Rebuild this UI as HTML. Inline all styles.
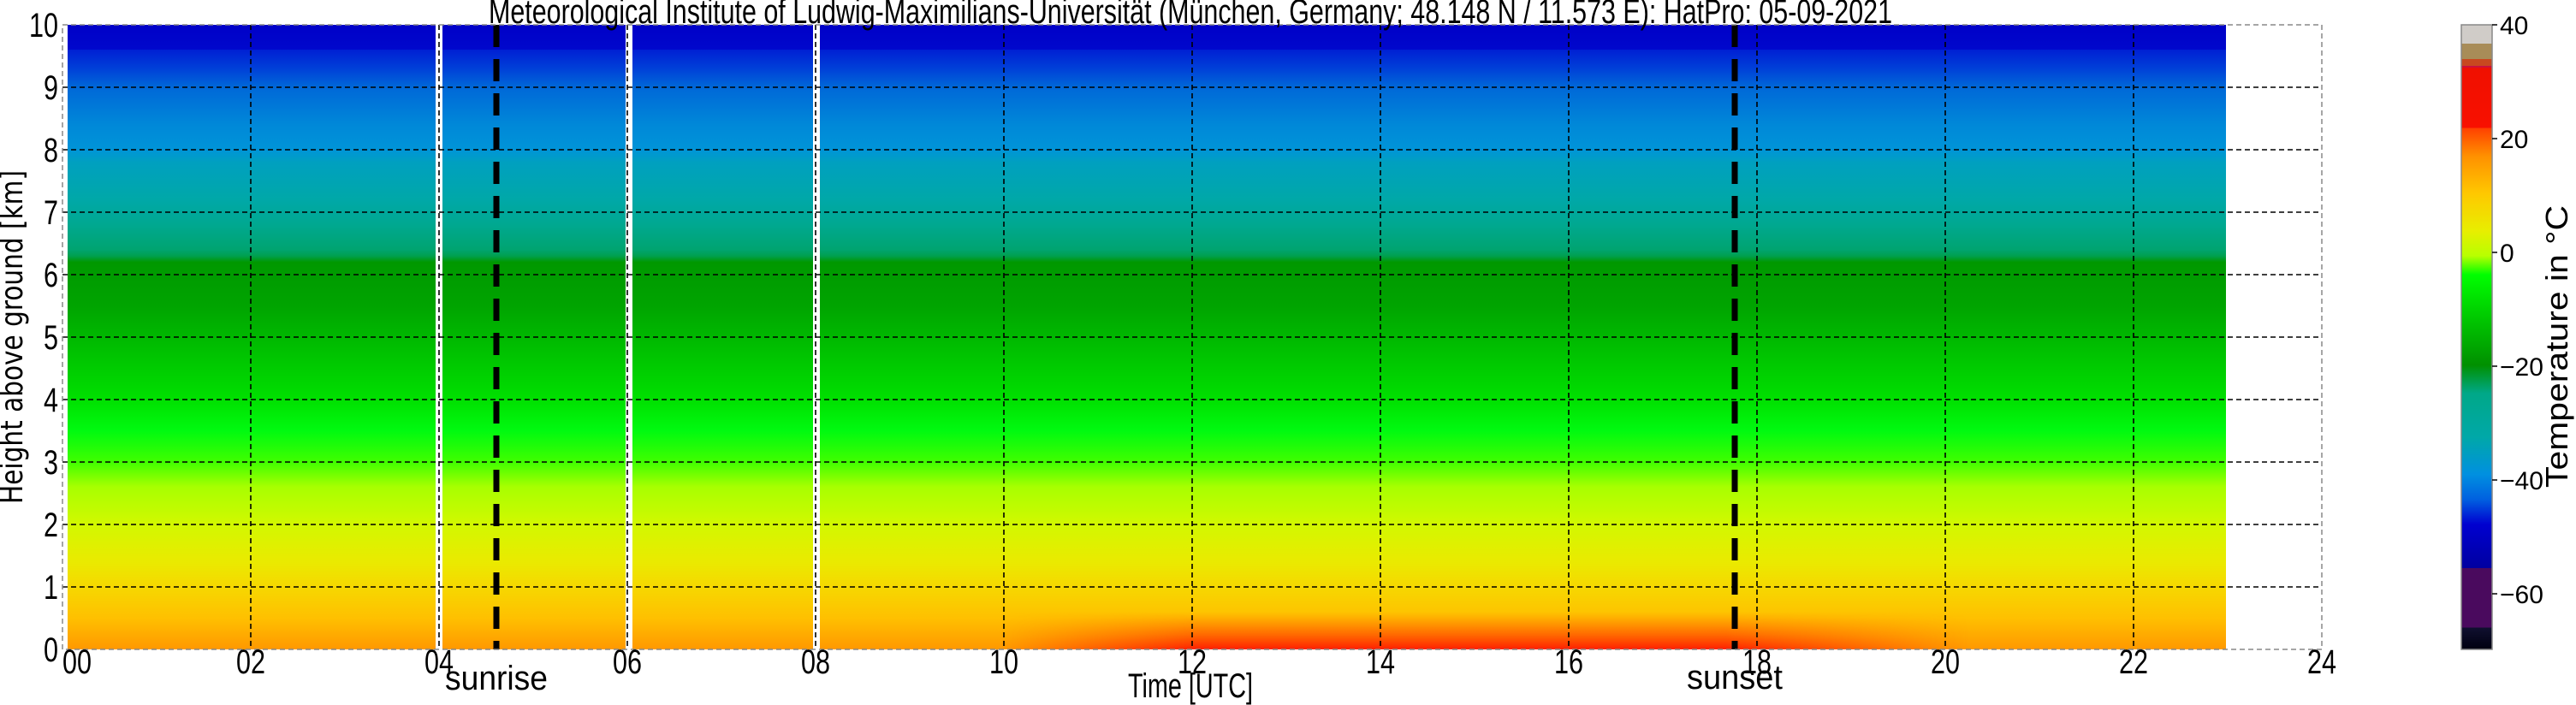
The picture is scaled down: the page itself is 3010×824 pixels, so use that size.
<!DOCTYPE html>
<html><head><meta charset="utf-8"><style>
html,body{margin:0;padding:0;background:#fff;width:3010px;height:824px;overflow:hidden}
svg{display:block}
text{font-family:"Liberation Sans Narrow","Liberation Sans",sans-serif;fill:#000}
.cb{font-family:"DejaVu Sans","Liberation Sans",sans-serif}
</style></head><body>
<svg width="3010" height="824" viewBox="0 0 3010 824" xmlns="http://www.w3.org/2000/svg">
<defs>
<linearGradient id="prof" x1="0" y1="29" x2="0" y2="759" gradientUnits="userSpaceOnUse">
<stop offset="0" stop-color="#0000c8"/>
<stop offset="0.04" stop-color="#0008cc"/>
<stop offset="0.04" stop-color="#0020d4"/>
<stop offset="0.07" stop-color="#0040d8"/>
<stop offset="0.10" stop-color="#0068d8"/>
<stop offset="0.16" stop-color="#0088d8"/>
<stop offset="0.20" stop-color="#0094d8"/>
<stop offset="0.22" stop-color="#00a0c0"/>
<stop offset="0.28" stop-color="#00a8a8"/>
<stop offset="0.32" stop-color="#00a890"/>
<stop offset="0.36" stop-color="#00a470"/>
<stop offset="0.37" stop-color="#00a050"/>
<stop offset="0.38" stop-color="#009800"/>
<stop offset="0.45" stop-color="#00a400"/>
<stop offset="0.52" stop-color="#00c000"/>
<stop offset="0.60" stop-color="#00e000"/>
<stop offset="0.65" stop-color="#00fa10"/>
<stop offset="0.70" stop-color="#40ff00"/>
<stop offset="0.74" stop-color="#a8ff00"/>
<stop offset="0.80" stop-color="#d2f800"/>
<stop offset="0.86" stop-color="#eaea00"/>
<stop offset="0.90" stop-color="#f6d800"/>
<stop offset="0.95" stop-color="#ffc000"/>
<stop offset="1" stop-color="#ff9800"/>
</linearGradient>
<linearGradient id="redv" x1="0" y1="715" x2="0" y2="759" gradientUnits="userSpaceOnUse">
<stop offset="0" stop-color="#ff6000" stop-opacity="0"/>
<stop offset="0.6" stop-color="#ff4000" stop-opacity="0.6"/>
<stop offset="1" stop-color="#ff2000" stop-opacity="1"/>
</linearGradient>
<linearGradient id="redh" x1="1170" y1="0" x2="2300" y2="0" gradientUnits="userSpaceOnUse">
<stop offset="0" stop-color="#fff" stop-opacity="0"/>
<stop offset="0.2" stop-color="#fff" stop-opacity="1"/>
<stop offset="0.75" stop-color="#fff" stop-opacity="1"/>
<stop offset="1" stop-color="#fff" stop-opacity="0"/>
</linearGradient>
<mask id="rm"><rect x="1100" y="700" width="1300" height="60" fill="url(#redh)"/></mask>
<linearGradient id="cbar" x1="0" y1="29" x2="0" y2="759" gradientUnits="userSpaceOnUse">
<stop offset="0" stop-color="#d0ccc8"/>
<stop offset="0.03" stop-color="#d0ccc8"/>
<stop offset="0.03" stop-color="#a88c58"/>
<stop offset="0.055" stop-color="#a88c58"/>
<stop offset="0.055" stop-color="#c84820"/>
<stop offset="0.066" stop-color="#c84820"/>
<stop offset="0.066" stop-color="#c01050"/>
<stop offset="0.07" stop-color="#f01000"/>
<stop offset="0.165" stop-color="#f81000"/>
<stop offset="0.165" stop-color="#ff4000"/>
<stop offset="0.21" stop-color="#ff9000"/>
<stop offset="0.27" stop-color="#ffc800"/>
<stop offset="0.33" stop-color="#e8ee00"/>
<stop offset="0.37" stop-color="#b8ff00"/>
<stop offset="0.40" stop-color="#00ff00"/>
<stop offset="0.47" stop-color="#00c800"/>
<stop offset="0.545" stop-color="#009000"/>
<stop offset="0.59" stop-color="#00a888"/>
<stop offset="0.66" stop-color="#00a8a8"/>
<stop offset="0.72" stop-color="#0090e0"/>
<stop offset="0.76" stop-color="#0060e0"/>
<stop offset="0.80" stop-color="#0000d0"/>
<stop offset="0.87" stop-color="#0000a0"/>
<stop offset="0.87" stop-color="#4a0a5e"/>
<stop offset="0.965" stop-color="#4a0a5e"/>
<stop offset="0.965" stop-color="#101030"/>
<stop offset="1" stop-color="#000010"/>
</linearGradient>
</defs>

<rect x="79" y="29" width="2522" height="730" fill="url(#prof)"/>
<rect x="79" y="700" width="2522" height="59" fill="url(#redv)" mask="url(#rm)"/>
<rect x="509" y="29" width="8" height="730" fill="#fff"/>
<rect x="731" y="29" width="8" height="730" fill="#fff"/>
<rect x="950" y="29" width="8" height="730" fill="#fff"/>

<g stroke="#000" stroke-width="1.6" stroke-dasharray="6,4" fill="none">
<path d="M73 102H2713M73 175H2713M73 248H2713M73 321H2713M73 394H2713M73 467H2713M73 540H2713M73 613H2713M73 686H2713"/>
<path d="M293 29V759M513 29V759M733 29V759M953 29V759M1173 29V759M1393 29V759M1613 29V759M1833 29V759M2053 29V759M2273 29V759M2493 29V759"/>
</g>
<g stroke="#000" stroke-width="7" stroke-dasharray="26,14"><path d="M580 29V759M2027 29V759"/></g>
<rect x="73" y="29" width="2640" height="730" fill="none" stroke="#888" stroke-width="1.5" stroke-dasharray="6,4"/>

<text x="1391" y="27" font-size="40" text-anchor="middle" textLength="1640" lengthAdjust="spacingAndGlyphs">Meteorological Institute of Ludwig-Maximilians-Universität (München, Germany; 48.148 N / 11.573 E):    HatPro: 05-09-2021</text>

<g font-size="40" text-anchor="end">
<text x="68" y="43" textLength="34" lengthAdjust="spacingAndGlyphs">10</text>
<text x="68" y="116" textLength="17" lengthAdjust="spacingAndGlyphs">9</text>
<text x="68" y="189" textLength="17" lengthAdjust="spacingAndGlyphs">8</text>
<text x="68" y="262" textLength="17" lengthAdjust="spacingAndGlyphs">7</text>
<text x="68" y="335" textLength="17" lengthAdjust="spacingAndGlyphs">6</text>
<text x="68" y="408" textLength="17" lengthAdjust="spacingAndGlyphs">5</text>
<text x="68" y="481" textLength="17" lengthAdjust="spacingAndGlyphs">4</text>
<text x="68" y="554" textLength="17" lengthAdjust="spacingAndGlyphs">3</text>
<text x="68" y="627" textLength="17" lengthAdjust="spacingAndGlyphs">2</text>
<text x="68" y="700" textLength="17" lengthAdjust="spacingAndGlyphs">1</text>
<text x="68" y="773" textLength="17" lengthAdjust="spacingAndGlyphs">0</text>
</g>
<text transform="translate(26,394) rotate(-90)" font-size="36" text-anchor="middle" textLength="390" lengthAdjust="spacingAndGlyphs" style="font-family:'DejaVu Sans','Liberation Sans',sans-serif">Height above ground [km]</text>

<g font-size="40" text-anchor="middle">
<text x="90" y="787" textLength="34" lengthAdjust="spacingAndGlyphs">00</text>
<text x="293" y="787" textLength="34" lengthAdjust="spacingAndGlyphs">02</text>
<text x="513" y="787" textLength="34" lengthAdjust="spacingAndGlyphs">04</text>
<text x="733" y="787" textLength="34" lengthAdjust="spacingAndGlyphs">06</text>
<text x="953" y="787" textLength="34" lengthAdjust="spacingAndGlyphs">08</text>
<text x="1173" y="787" textLength="34" lengthAdjust="spacingAndGlyphs">10</text>
<text x="1393" y="787" textLength="34" lengthAdjust="spacingAndGlyphs">12</text>
<text x="1613" y="787" textLength="34" lengthAdjust="spacingAndGlyphs">14</text>
<text x="1833" y="787" textLength="34" lengthAdjust="spacingAndGlyphs">16</text>
<text x="2053" y="787" textLength="34" lengthAdjust="spacingAndGlyphs">18</text>
<text x="2273" y="787" textLength="34" lengthAdjust="spacingAndGlyphs">20</text>
<text x="2493" y="787" textLength="34" lengthAdjust="spacingAndGlyphs">22</text>
<text x="2713" y="787" textLength="34" lengthAdjust="spacingAndGlyphs">24</text>
</g>
<text x="580" y="806" font-size="40" text-anchor="middle" textLength="120" lengthAdjust="spacingAndGlyphs">sunrise</text>
<text x="2027" y="805" font-size="40" text-anchor="middle" textLength="112" lengthAdjust="spacingAndGlyphs">sunset</text>
<text x="1391" y="815" font-size="40" text-anchor="middle" textLength="146" lengthAdjust="spacingAndGlyphs">Time [UTC]</text>

<rect x="2876" y="29" width="36" height="730" fill="url(#cbar)" stroke="#888" stroke-width="1.5"/>
<g stroke="#000" stroke-width="1.5"><path d="M2912 29h6M2912 162h6M2912 295h6M2912 428h6M2912 561h6M2912 694h6"/></g>
<g class="cb" font-size="30">
<text x="2921" y="40">40</text><text x="2921" y="173">20</text><text x="2921" y="306">0</text><text x="2921" y="439">−20</text><text x="2921" y="572">−40</text><text x="2921" y="705">−60</text>
</g>
<text transform="translate(3000,405) rotate(-90)" font-size="36" text-anchor="middle" textLength="330" lengthAdjust="spacingAndGlyphs">Temperature in °C</text>
</svg>
</body></html>
